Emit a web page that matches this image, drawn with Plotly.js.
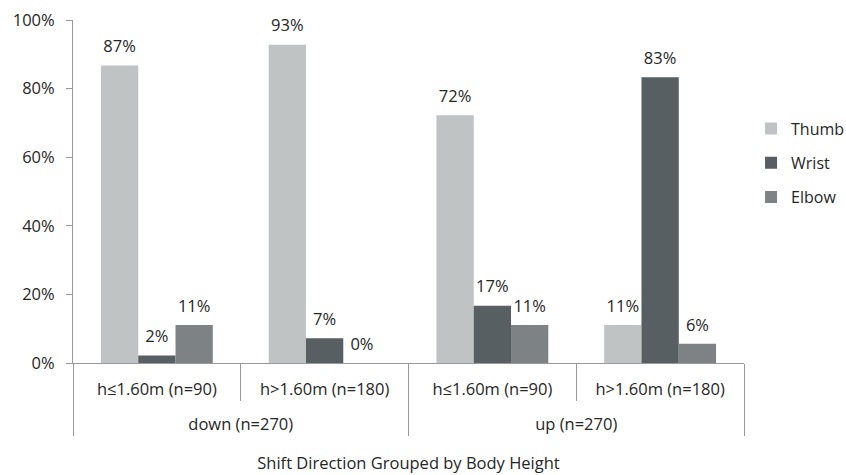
<!DOCTYPE html>
<html><head><meta charset="utf-8">
<script src="https://cdn.plot.ly/plotly-3.0.1.min.js"></script>
<style>html,body{margin:0;padding:0;background:#fff}#chart{width:846px;height:475px}</style>
</head><body><div id="chart"></div>
<script>
const directions = ["<br>down (n=270)", "<br>down (n=270)", "<br>up (n=270)", "<br>up (n=270)"];
const heights = ["h≤1.60m (n=90)", "h>1.60m (n=180)", "h≤1.60m (n=90)", "h>1.60m (n=180)"];
const seriesNames = ["Thumb", "Wrist", "Elbow"];
const thumb = [0.867, 0.928, 0.722, 0.111];
const wrist = [0.022, 0.072, 0.167, 0.833];
const elbow = [0.111, 0.000, 0.111, 0.056];
const yTicks = [0, 0.2, 0.4, 0.6, 0.8, 1.0];

const seriesValues = [thumb, wrist, elbow];
const colors = ["#c0c3c4", "#575f62", "#7d8385"];
const FONT = "Open Sans, sans-serif";
const TXT = "#262626";
const AX = "#9a9a9a";

const traces = [];
seriesNames.forEach((name, i) => {
  traces.push({
    type: "bar", name: name, x: [directions, heights], y: seriesValues[i],
    marker: {color: colors[i]}, legendgroup: name, offsetgroup: name,
    hoverinfo: "skip"
  });
});
seriesNames.forEach((name, i) => {
  traces.push({
    type: "scatter", mode: "markers+text", x: [directions, heights], y: seriesValues[i],
    marker: {size: 13, opacity: 0, color: colors[i]}, offsetgroup: name,
    texttemplate: "%{y:.0%}", textposition: "top center",
    textfont: {family: FONT, size: 16.5, color: TXT},
    showlegend: false, hoverinfo: "skip", cliponaxis: false
  });
});

const layout = {
  width: 846, height: 475,
  margin: {l: 73, r: 102, t: 20, b: 112, autoexpand: false},
  paper_bgcolor: "#fff", plot_bgcolor: "#fff",
  font: {family: FONT, size: 16.5, color: TXT},
  barmode: "group", bargap: 0.333, bargroupgap: 0,
  scattermode: "group", scattergap: 0.333,
  hovermode: false, showlegend: true,
  legend: {x: 1.0105, xanchor: "left", y: 0.583, yanchor: "middle",
    traceorder: "grouped", tracegroupgap: 10.5, font: {family: FONT, size: 16, color: TXT},
    bgcolor: "rgba(0,0,0,0)", borderwidth: 0},
  xaxis: {
    type: "multicategory", showline: true, linecolor: AX, linewidth: 1,
    ticks: "outside", tickson: "boundaries", ticklen: 37, tickcolor: AX,
    showdividers: true, dividercolor: AX, dividerwidth: 1,
    showgrid: false, zeroline: false, ticklabelstandoff: 11,
    tickfont: {family: FONT, size: 16.5, color: TXT},
    title: {text: "Shift Direction Grouped by Body Height", font: {family: FONT, size: 16.5, color: TXT}, standoff: 23}
  },
  yaxis: {
    range: [0, 1], tickvals: yTicks, tickformat: ".0%",
    showline: true, linecolor: AX, linewidth: 1, ticks: "outside", ticklen: 6, tickcolor: AX,
    showgrid: false, zeroline: false, ticklabelstandoff: 8,
    tickfont: {family: FONT, size: 16.5, color: TXT}
  }
};
Plotly.newPlot("chart", traces, layout, {displayModeBar: false, staticPlot: true});
</script></body></html>
